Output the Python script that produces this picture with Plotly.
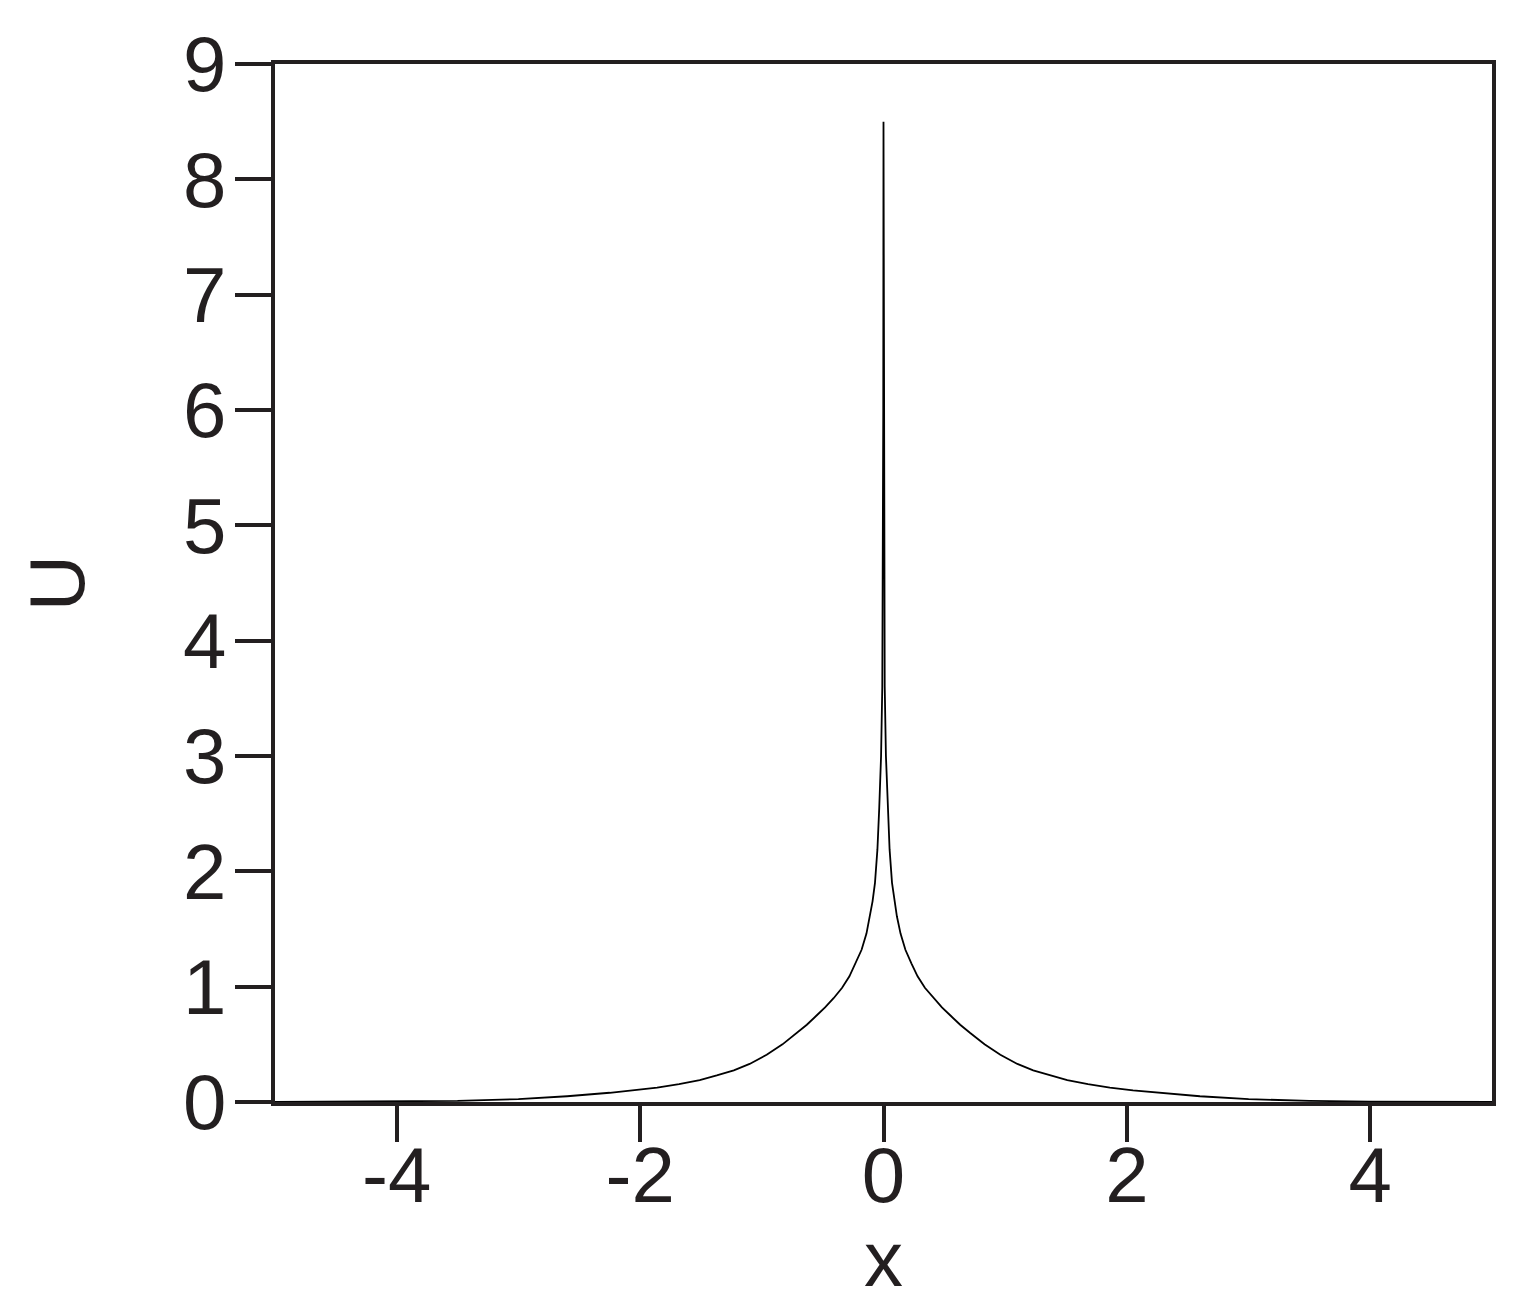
import plotly.graph_objects as go

x_half = [0.0, 0.002, 0.005, 0.01, 0.02, 0.035, 0.05, 0.07, 0.09, 0.11, 0.14, 0.18,
          0.23, 0.28, 0.34, 0.41, 0.48, 0.55, 0.63, 0.71, 0.83, 0.96, 1.1, 1.23,
          1.37, 1.51, 1.68, 1.86, 2.05, 2.25, 2.6, 3.0, 3.5, 4.0, 4.5, 5.0]
u_half = [8.5, 6.0, 4.5, 3.6, 3.0, 2.55, 2.19, 1.9, 1.74, 1.61, 1.46, 1.32,
          1.2, 1.09, 0.99, 0.9, 0.82, 0.75, 0.67, 0.6, 0.5, 0.41, 0.33, 0.275,
          0.23, 0.19, 0.155, 0.125, 0.1, 0.08, 0.05, 0.025, 0.01, 0.004, 0.002, 0.0]

x_vals = [-v for v in reversed(x_half[1:])] + x_half
u_vals = list(reversed(u_half[1:])) + u_half

x_ticks = [-4, -2, 0, 2, 4]
x_tick_text = ["-4", "-2", "0", "2", "4"]
y_ticks = [0, 1, 2, 3, 4, 5, 6, 7, 8, 9]

ink = "#231f20"

fig = go.Figure()
fig.add_trace(go.Scatter(x=x_vals, y=u_vals, mode="lines",
                         line=dict(color="black", width=1.8), showlegend=False))

axis_style = dict(showline=True, linewidth=4, linecolor=ink, mirror=True,
                  ticks="outside", ticklen=36, tickwidth=4, tickcolor=ink,
                  showgrid=False, zeroline=False, automargin=False,
                  tickfont=dict(size=78, color=ink),
                  title_font=dict(size=78, color=ink))

fig.update_xaxes(range=[-5, 5], tickvals=x_ticks, ticktext=x_tick_text,
                 ticklabelstandoff=-34, **axis_style)
fig.update_yaxes(range=[0, 9], tickvals=y_ticks, ticklabelstandoff=-7,
                 title_text="U", title_standoff=74, **axis_style)

# x-axis title placed as an annotation so it sits just under the tick labels
fig.add_annotation(text="x", x=0, xref="x", y=0, yref="paper",
                   yanchor="middle", yshift=-157, showarrow=False,
                   font=dict(size=78, color=ink))

fig.update_layout(
    width=1522, height=1310,
    margin=dict(l=267, r=38, t=56, b=216),
    plot_bgcolor="white", paper_bgcolor="white",
    font=dict(family="Liberation Sans, Arial, sans-serif", color=ink),
)

fig.write_html("out.html")
